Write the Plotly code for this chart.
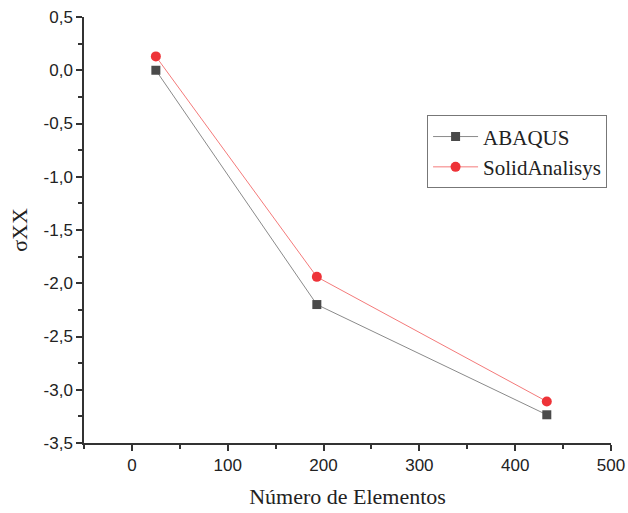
import plotly.graph_objects as go

elements = [25, 193, 433]
abaqus = [0.0, -2.20, -3.235]
solid = [0.13, -1.94, -3.11]

x_ticks = [0, 100, 200, 300, 400, 500]
y_ticks = [-3.5, -3.0, -2.5, -2.0, -1.5, -1.0, -0.5, 0.0, 0.5]
y_ticklabels = ["-3,5", "-3,0", "-2,5", "-2,0", "-1,5", "-1,0", "-0,5", "0,0", "0,5"]

fig = go.Figure()
fig.add_trace(go.Scatter(x=elements, y=abaqus, name="ABAQUS", mode="lines+markers",
                         line=dict(color="#8a8a8a", width=1),
                         marker=dict(symbol="square", size=9, color="#4a4a4a")))
fig.add_trace(go.Scatter(x=elements, y=solid, name="SolidAnalisys", mode="lines+markers",
                         line=dict(color="#f47a7a", width=1),
                         marker=dict(symbol="circle", size=10, color="#ee3338")))

axis_common = dict(showline=True, linecolor="#333", linewidth=1.5, ticks="outside",
                   tickcolor="#333", tickwidth=1.5, ticklen=6, showgrid=False, zeroline=False,
                   tickfont=dict(family="Liberation Sans, Arial", size=17, color="#222"),
                   mirror=False, automargin=False)

fig.update_xaxes(range=[-50, 500], tickvals=x_ticks,
                 minor=dict(ticks="outside", tickvals=[-50, 50, 150, 250, 350, 450], ticklen=4,
                            tickcolor="#333", tickwidth=1.5),
                 title=dict(text="Número de Elementos", font=dict(family="Liberation Serif, Times New Roman", size=22, color="#222"), standoff=14),
                 **axis_common)
fig.update_yaxes(range=[-3.5, 0.5], tickvals=y_ticks, ticktext=y_ticklabels,
                 minor=dict(ticks="outside", tickvals=[-3.25, -2.75, -2.25, -1.75, -1.25, -0.75, -0.25, 0.25], ticklen=4,
                            tickcolor="#333", tickwidth=1.5),
                 title=dict(text="σXX", font=dict(family="Liberation Serif, Times New Roman", size=22, color="#222"), standoff=10),
                 **axis_common)

fig.update_layout(
    width=628, height=513,
    margin=dict(l=84, r=17, t=17, b=70, autoexpand=False),
    plot_bgcolor="white", paper_bgcolor="white",
    separators=",.",
    legend=dict(x=0.651, y=0.769, xanchor="left", yanchor="top",
                bordercolor="#777", borderwidth=1, bgcolor="white",
                font=dict(family="Liberation Serif, Times New Roman", size=21, color="#222"),
                tracegroupgap=0, itemwidth=45),
    showlegend=True,
)

fig.write_html("out.html")
